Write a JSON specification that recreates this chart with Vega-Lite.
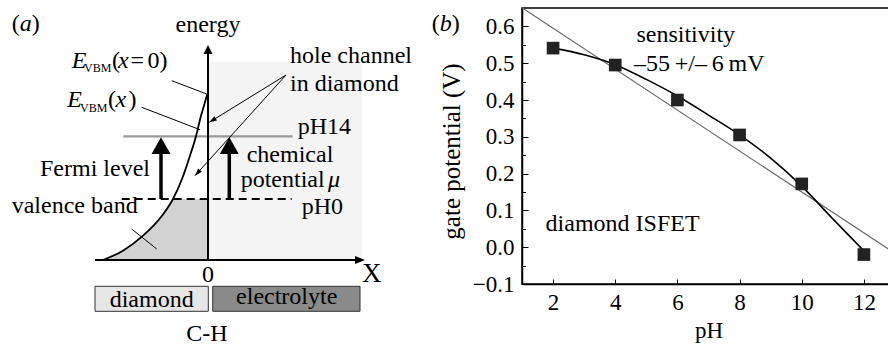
{
  "$schema": "https://vega.github.io/schema/vega-lite/v6.json",
  "padding": {"left": 0, "top": 4, "right": 0, "bottom": 0},
  "spacing": 0,
  "bounds": "flush",
  "config": {"font": "'Liberation Serif', 'Times New Roman', Times, 'DejaVu Serif', serif", "view": {"stroke": null}},
  "datasets": {
    "bg": [{"x": 0, "x2": 15.4, "e": 0, "e2": 19.83}],
    "boxes": [
      {"region": "diamond", "x": -11.3, "x2": 0.03, "e": -5.13, "e2": -2.63},
      {"region": "electrolyte", "x": 0.47, "x2": 15.2, "e": -5.13, "e2": -2.63}
    ],
    "vbm": [
      {"x": -10.5, "e": 0}, {"x": -8.5, "e": 0.93}, {"x": -6.5, "e": 2.43}, {"x": -4.6, "e": 4.43},
      {"x": -3.5, "e": 6.1}, {"x": -2.6, "e": 8.1}, {"x": -1.8, "e": 10.43}, {"x": -1.2, "e": 12.37},
      {"x": -0.7, "e": 14.43}, {"x": -0.3, "e": 15.77}, {"x": -0.07, "e": 16.6}
    ],
    "segments": [
      {"kind": "axis", "x": 0, "e": 0, "x2": 0, "e2": 20.7},
      {"kind": "axis", "x": -11.3, "e": 0, "x2": 14.8, "e2": 0},
      {"kind": "shaft", "x": -4.7, "e": 6.1, "x2": -4.7, "e2": 10.8},
      {"kind": "shaft", "x": 2.13, "e": 6.1, "x2": 2.13, "e2": 10.8},
      {"kind": "pH14", "x": -8.47, "e": 12.37, "x2": 8.47, "e2": 12.37},
      {"kind": "pH0", "x": -8.63, "e": 6.1, "x2": 8.37, "e2": 6.1},
      {"kind": "leader", "x": -3.63, "e": 17.93, "x2": -0.13, "e2": 16.6},
      {"kind": "leader", "x": -6.63, "e": 15.27, "x2": -0.8, "e2": 13.03},
      {"kind": "leader", "x": -7.63, "e": 3.1, "x2": -5.13, "e2": 1.1},
      {"kind": "leader", "x": 7.8, "e": 18.5, "x2": 0.13, "e2": 13.77},
      {"kind": "leader", "x": 7.8, "e": 18.5, "x2": -1.3, "e2": 8.43}
    ],
    "heads": [
      {"kind": "axisUp", "x": 0, "e": 21.5},
      {"kind": "axisRight", "x": 15.7, "e": 0},
      {"kind": "big", "x": -4.7, "e": 12.27},
      {"kind": "big", "x": 2.13, "e": 12.27},
      {"kind": "hole1", "x": 0.13, "e": 13.77},
      {"kind": "hole2", "x": -1.3, "e": 8.43}
    ],
    "labelsLeft": [
      {"x": -19.63, "e": 22.93, "t": "("}, {"x": -17.63, "e": 22.93, "t": ")"},
      {"x": 22.37, "e": 22.93, "t": "("}, {"x": 24.37, "e": 22.93, "t": ")"},
      {"x": 8.2, "e": 19.7, "t": "hole channel"},
      {"x": 8.2, "e": 16.93, "t": "in diamond"},
      {"x": 8.97, "e": 12.65, "t": "pH14"},
      {"x": 3.87, "e": 9.77, "t": "chemical"},
      {"x": 3.27, "e": 7.27, "t": "potential"},
      {"x": -16.8, "e": 8.37, "t": "Fermi level"},
      {"x": -19.63, "e": 4.67, "t": "valence band"},
      {"x": 9.37, "e": 4.6, "t": "pH0"},
      {"x": -9.6, "e": 19.17, "t": "("}, {"x": -7.75, "e": 19.17, "t": "="}, {"x": -6.05, "e": 19.17, "t": "0)"},
      {"x": -10.0, "e": 15.27, "t": "("}, {"x": -7.95, "e": 15.27, "t": ")"}
    ],
    "axisLetter": [
      {"x": 15.4, "e": -2.23, "t": "X"}
    ],
    "labelsCentered": [
      {"x": 0, "e": 22.83, "t": "energy"},
      {"x": 0, "e": -2.17, "t": "0"},
      {"x": -5.63, "e": -4.73, "t": "diamond"},
      {"x": 7.87, "e": -4.4, "t": "electrolyte"},
      {"x": -0.1, "e": -8.07, "t": "C-H"}
    ],
    "symbolsItalic": [
      {"x": -18.83, "e": 22.93, "t": "a"},
      {"x": 23.17, "e": 22.93, "t": "b"},
      {"x": 12.0, "e": 7.27, "t": "μ"},
      {"x": -13.63, "e": 19.17, "t": "E"},
      {"x": -9.0, "e": 19.17, "t": "x"},
      {"x": -14.07, "e": 15.27, "t": "E"},
      {"x": -9.25, "e": 15.27, "t": "x"}
    ],
    "subscripts": [
      {"x": -12.4, "e": 18.77, "t": "VBM"},
      {"x": -12.8, "e": 14.83, "t": "VBM"}
    ],
    "measured": [
      {"pH": 2, "v": 0.541}, {"pH": 4, "v": 0.495}, {"pH": 6, "v": 0.4},
      {"pH": 8, "v": 0.305}, {"pH": 10, "v": 0.172}, {"pH": 12, "v": -0.02}
    ],
    "fit": [
      {"pH": 2, "v": 0.541}, {"pH": 3, "v": 0.523}, {"pH": 4, "v": 0.496}, {"pH": 5, "v": 0.456},
      {"pH": 6, "v": 0.411}, {"pH": 7, "v": 0.359}, {"pH": 8, "v": 0.305}, {"pH": 9, "v": 0.242},
      {"pH": 10, "v": 0.166}, {"pH": 11, "v": 0.077}, {"pH": 12, "v": -0.01}
    ],
    "linear": [{"pH": 1, "v": 0.651}, {"pH": 13, "v": -0.017}],
    "notes": [
      {"pH": 4.68, "v": 0.558, "t": "sensitivity"},
      {"pH": 4.6, "v": 0.4796, "t": "–55\u2009+/–\u20096\u2009mV"},
      {"pH": 1.76, "v": 0.044, "t": "diamond ISFET"}
    ]
  },
  "hconcat": [
    {
      "width": 522,
      "height": 344,
      "encoding": {
        "x": {"field": "x", "type": "quantitative", "scale": {"domain": [-20.8, 31.4], "nice": false, "zero": false}, "axis": null},
        "y": {"field": "e", "type": "quantitative", "scale": {"domain": [-9.2, 25.2], "nice": false, "zero": false}, "axis": null}
      },
      "layer": [
        {"data": {"name": "bg"}, "mark": {"type": "rect", "fill": "#f4f4f4"},
         "encoding": {"x2": {"field": "x2"}, "y2": {"field": "e2"}}},
        {"data": {"name": "vbm"}, "transform": [{"filter": "datum.e <= 6.1"}],
         "mark": {"type": "area", "orient": "horizontal", "fill": "#d2d2d2", "interpolate": "monotone"},
         "encoding": {"x2": {"datum": 0}}},
        {"data": {"name": "boxes"}, "mark": {"type": "rect", "stroke": "#333333", "strokeWidth": 1},
         "encoding": {"x2": {"field": "x2"}, "y2": {"field": "e2"},
           "color": {"field": "region", "type": "nominal", "scale": {"domain": ["diamond", "electrolyte"], "range": ["#e6e6e6", "#8a8a8a"]}, "legend": null}}},
        {"data": {"name": "segments"}, "transform": [{"filter": "datum.kind == 'pH14'"}],
         "mark": {"type": "rule", "color": "#9a9a9a", "strokeWidth": 2.3},
         "encoding": {"x2": {"field": "x2"}, "y2": {"field": "e2"}}},
        {"data": {"name": "segments"}, "transform": [{"filter": "datum.kind == 'pH0'"}],
         "mark": {"type": "rule", "color": "black", "strokeWidth": 2, "strokeDash": [8, 5]},
         "encoding": {"x2": {"field": "x2"}, "y2": {"field": "e2"}}},
        {"data": {"name": "vbm"}, "mark": {"type": "line", "color": "black", "strokeWidth": 1.8, "interpolate": "monotone"},
         "encoding": {"order": {"field": "e", "type": "quantitative"}}},
        {"data": {"name": "segments"}, "transform": [{"filter": "datum.kind == 'axis'"}],
         "mark": {"type": "rule", "color": "black", "strokeWidth": 2},
         "encoding": {"x2": {"field": "x2"}, "y2": {"field": "e2"}}},
        {"data": {"name": "segments"}, "transform": [{"filter": "datum.kind == 'shaft'"}],
         "mark": {"type": "rule", "color": "black", "strokeWidth": 3.5},
         "encoding": {"x2": {"field": "x2"}, "y2": {"field": "e2"}}},
        {"data": {"name": "segments"}, "transform": [{"filter": "datum.kind == 'leader'"}],
         "mark": {"type": "rule", "color": "black", "strokeWidth": 1},
         "encoding": {"x2": {"field": "x2"}, "y2": {"field": "e2"}}},
        {"data": {"name": "heads"}, "transform": [{"filter": "datum.kind == 'axisUp'"}],
         "mark": {"type": "point", "shape": "M0,0L-0.9,1.8L0.9,1.8Z", "size": 100, "filled": true, "color": "black", "opacity": 1}},
        {"data": {"name": "heads"}, "transform": [{"filter": "datum.kind == 'axisRight'"}],
         "mark": {"type": "point", "shape": "M0,0L-0.8,2L0.8,2Z", "size": 100, "angle": 90, "filled": true, "color": "black", "opacity": 1}},
        {"data": {"name": "heads"}, "transform": [{"filter": "datum.kind == 'big'"}],
         "mark": {"type": "point", "shape": "M0,0L-0.95,1.67L0.95,1.67Z", "size": 400, "filled": true, "color": "black", "opacity": 1}},
        {"data": {"name": "heads"}, "transform": [{"filter": "datum.kind == 'hole1'"}],
         "mark": {"type": "point", "shape": "M0,0L-0.5,1.5L0.5,1.5Z", "size": 100, "angle": 238.3, "filled": true, "color": "black", "opacity": 1}},
        {"data": {"name": "heads"}, "transform": [{"filter": "datum.kind == 'hole2'"}],
         "mark": {"type": "point", "shape": "M0,0L-0.5,1.5L0.5,1.5Z", "size": 100, "angle": 222.1, "filled": true, "color": "black", "opacity": 1}},
        {"data": {"name": "labelsLeft"}, "mark": {"type": "text", "fontSize": 24, "align": "left", "baseline": "alphabetic", "color": "black"},
         "encoding": {"text": {"field": "t"}}},
        {"data": {"name": "axisLetter"}, "mark": {"type": "text", "fontSize": 27, "align": "left", "baseline": "alphabetic", "color": "black"},
         "encoding": {"text": {"field": "t"}}},
        {"data": {"name": "labelsCentered"}, "mark": {"type": "text", "fontSize": 24, "align": "center", "baseline": "alphabetic", "color": "black"},
         "encoding": {"text": {"field": "t"}}},
        {"data": {"name": "symbolsItalic"}, "mark": {"type": "text", "fontSize": 24, "fontStyle": "italic", "align": "left", "baseline": "alphabetic", "color": "black"},
         "encoding": {"text": {"field": "t"}}},
        {"data": {"name": "subscripts"}, "mark": {"type": "text", "fontSize": 12, "align": "left", "baseline": "alphabetic", "color": "black"},
         "encoding": {"text": {"field": "t"}}}
      ]
    },
    {
      "width": 373,
      "height": 276,
      "view": {"stroke": "black", "strokeWidth": 1.5},
      "encoding": {
        "x": {"field": "pH", "type": "quantitative", "scale": {"domain": [1, 13], "nice": false, "zero": false},
          "axis": {"values": [2, 4, 6, 8, 10, 12], "format": "d", "grid": false, "tickSize": -5, "tickWidth": 1, "tickColor": "black",
            "domainColor": "black", "domainWidth": 1.5, "labelPadding": 12, "labelFontSize": 23, "labelColor": "black", "labelFlush": false,
            "title": "pH", "titleFontSize": 23, "titleFontWeight": "normal", "titleColor": "black", "titleY": 53, "titleBaseline": "alphabetic"}},
        "y": {"field": "v", "type": "quantitative", "scale": {"domain": [-0.1, 0.65], "nice": false, "zero": false},
          "axis": {"values": [-0.1, -0.05, 0, 0.05, 0.1, 0.15, 0.2, 0.25, 0.3, 0.35, 0.4, 0.45, 0.5, 0.55, 0.6],
            "labelExpr": "abs(round(datum.value * 20)) % 2 == 0 ? format(datum.value, '.1f') : ''",
            "tickSize": {"condition": {"test": "abs(round(datum.value * 20)) % 2 == 1", "value": -3.5}, "value": -6},
            "grid": false, "tickWidth": 1, "tickColor": "black", "domainColor": "black", "domainWidth": 1.5,
            "labelPadding": 14, "labelFontSize": 23, "labelColor": "black", "labelOverlap": false, "labelFlush": false,
            "title": "gate potential (V)", "titleFontSize": 25, "titleFontWeight": "normal", "titleColor": "black",
            "titleX": -63, "titleY": 143, "titleAlign": "center", "titleAngle": -90, "titleBaseline": "alphabetic"}}
      },
      "layer": [
        {"data": {"name": "linear"}, "mark": {"type": "line", "color": "#6a6a6a", "strokeWidth": 1.2}},
        {"data": {"name": "fit"}, "mark": {"type": "line", "color": "black", "strokeWidth": 1.6, "interpolate": "monotone"}},
        {"data": {"name": "measured"}, "mark": {"type": "point", "shape": "square", "size": 160, "filled": true, "color": "#222222", "opacity": 1}},
        {"data": {"name": "notes"}, "mark": {"type": "text", "fontSize": 24, "align": "left", "baseline": "alphabetic", "color": "black"},
         "encoding": {"text": {"field": "t"}}}
      ]
    }
  ]
}
